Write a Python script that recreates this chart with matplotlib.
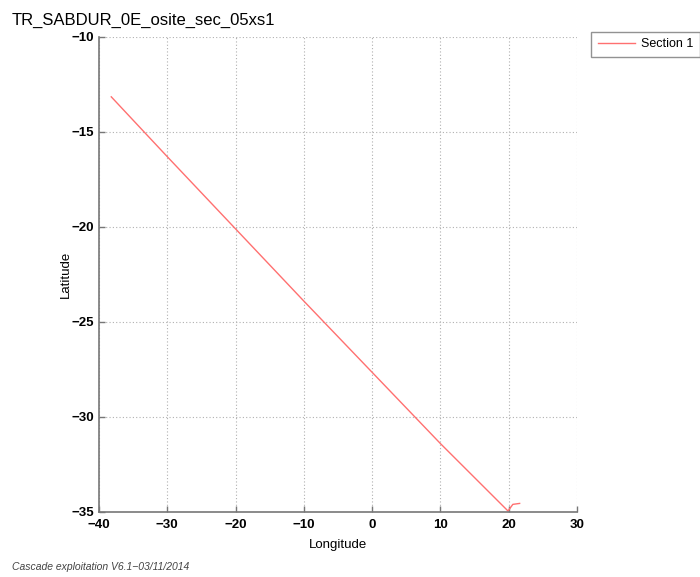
import matplotlib
matplotlib.use("Agg")
import matplotlib.pyplot as plt

# section track (lon, lat)
lon = [-38.2, -30.0, -20.0, -10.0, 0.0, 10.0, 19.9, 20.6, 21.6]
lat = [-13.15, -16.3, -20.1, -23.9, -27.65, -31.4, -34.95, -34.6, -34.55]

xticks = [-40, -30, -20, -10, 0, 10, 20, 30]
yticks = [-35, -30, -25, -20, -15, -10]

plt.rcParams["font.family"] = ["Liberation Sans", "DejaVu Sans"]

fig = plt.figure(figsize=(7.0, 5.77), dpi=100)
ax = fig.add_axes([0.1414, 0.1127, 0.6829, 0.8232])
ax.plot(lon, lat, color="#ff7070", lw=1.0, label="Section 1")

ax.set_xlim(-40, 30)
ax.set_ylim(-35, -10)
ax.set_xticks(xticks)
ax.set_yticks(yticks)
ax.set_xticklabels([str(t).replace("-", "\u2212") for t in xticks])
ax.set_yticklabels([str(t).replace("-", "\u2212") for t in yticks])
ax.grid(True, ls=(0, (1, 2)), color="#b0b0b0", lw=0.8)
for s in ("top", "right"):
    ax.spines[s].set_visible(False)
for s in ("left", "bottom"):
    ax.spines[s].set_color("#777777")
    ax.spines[s].set_linewidth(1.2)
ax.tick_params(direction="in", length=4, color="#777777", labelsize=9.5,
               width=1.0)
ax.tick_params(axis="x", pad=5)
for lab in ax.get_xticklabels() + ax.get_yticklabels():
    lab.set_fontweight("bold")
ax.set_xlabel("Longitude", fontsize=9.5, labelpad=6)
ax.set_ylabel("Latitude", fontsize=9.5, labelpad=0)

leg = ax.legend(loc="upper left", bbox_to_anchor=(1.03, 1.01), fontsize=9,
                frameon=True, fancybox=False, borderaxespad=0.0,
                handlelength=3.0, handletextpad=0.5, borderpad=0.5)
leg.get_frame().set_edgecolor("#777777")
leg.get_frame().set_linewidth(1.0)

fig.text(0.017, 0.965, "TR_SABDUR_0E_osite_sec_05xs1", fontsize=12,
         va="center", ha="left")
fig.text(0.017, 0.018, "Cascade exploitation V6.1\u221203/11/2014", fontsize=7.5,
         style="italic", color="#444444", va="center", ha="left")

fig.savefig("out.png", dpi=100)
